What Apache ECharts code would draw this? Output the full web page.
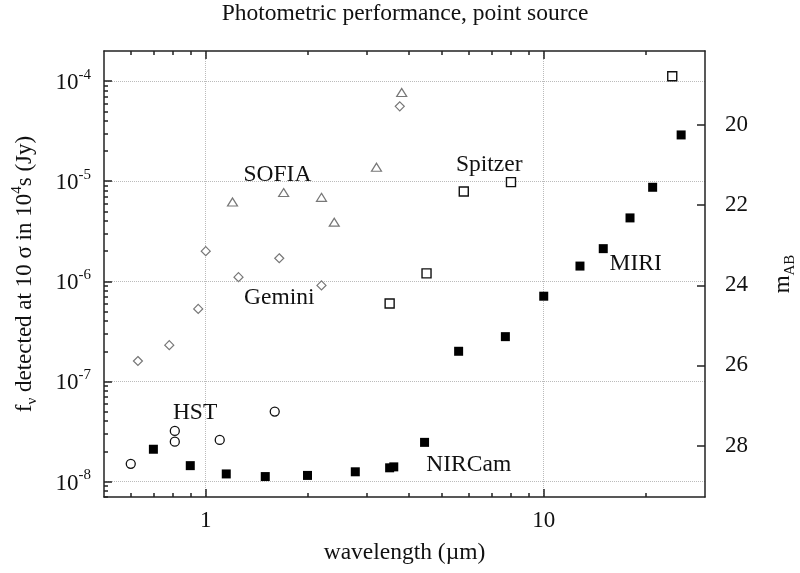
<!DOCTYPE html>
<html>
<head>
<meta charset="utf-8">
<script src="https://cdn.jsdelivr.net/npm/echarts@6/dist/echarts.min.js"></script>
<style>
  html, body { margin: 0; padding: 0; background: #fff; }
  #chart { width: 800px; height: 573px; }
</style>
</head>
<body>
<div id="chart"></div>
<script>
const font = 'Liberation Serif';

// wavelength (um) and 10 sigma flux (Jy)
const geminiWl = [0.63, 0.78, 0.95, 1.0, 1.25, 1.65, 2.2, 3.75];
const geminiFlux = [1.6e-7, 2.3e-7, 5.3e-7, 2.0e-6, 1.1e-6, 1.7e-6, 9.1e-7, 5.6e-5];
const sofiaWl = [1.2, 1.7, 2.2, 2.4, 3.2, 3.8];
const sofiaFlux = [6.2e-6, 7.7e-6, 6.9e-6, 3.9e-6, 1.38e-5, 7.7e-5];
const spitzerWl = [3.5, 4.5, 5.8, 8.0, 24];
const spitzerFlux = [6.0e-7, 1.2e-6, 7.9e-6, 9.8e-6, 1.12e-4];
const hstWl = [0.6, 0.81, 0.81, 1.1, 1.6];
const hstFlux = [1.5e-8, 3.2e-8, 2.5e-8, 2.6e-8, 5.0e-8];
const nircamWl = [0.7, 0.9, 1.15, 1.5, 2.0, 2.77, 3.5, 3.6, 4.44];
const nircamFlux = [2.1e-8, 1.44e-8, 1.19e-8, 1.12e-8, 1.15e-8, 1.25e-8, 1.37e-8, 1.40e-8, 2.46e-8];
const miriWl = [5.6, 7.7, 10, 12.8, 15, 18, 21, 25.5];
const miriFlux = [2.0e-7, 2.8e-7, 7.1e-7, 1.42e-6, 2.12e-6, 4.3e-6, 8.7e-6, 2.9e-5];

// instrument names placed in data space
const labelNames = ['SOFIA', 'Spitzer', 'Gemini', 'MIRI', 'HST', 'NIRCam'];
const labelWl = [1.63, 6.9, 1.65, 18.7, 0.93, 6.0];
const labelFlux = [1.16e-5, 1.47e-5, 6.8e-7, 1.48e-6, 4.9e-8, 1.46e-8];

// axes
const xMin = 0.5, xMax = 30;
const yMin = 7e-9, yMax = 2e-4;
const xMajor = [1, 10];
const xMinor = [0.6, 0.7, 0.8, 0.9, 2, 3, 4, 5, 6, 7, 8, 9, 20];
const yMajor = [1e-8, 1e-7, 1e-6, 1e-5, 1e-4];
const magTicks = [20, 22, 24, 26, 28];
const abZero = 3631; // Jy

const yMinor = [];
[1e-9, 1e-8, 1e-7, 1e-6, 1e-5, 1e-4].forEach(d => {
  for (let k = 2; k <= 9; k++) {
    const v = d * k;
    if (v > yMin && v < yMax) yMinor.push(v);
  }
});
const toMag = f => -2.5 * Math.log10(f / abZero);

const pairs = (xs, ys) => xs.map((x, i) => [x, ys[i]]);

const lineStyle = { color: '#222', width: 1.5 };
const gridLine = { show: true, lineStyle: { color: '#bbb', type: 'dotted', width: 1 } };
const noLabel = { show: false };

let myChart = echarts.init(document.getElementById('chart'));
let option = {
  animation: false,
  backgroundColor: '#fff',
  title: {
    text: 'Photometric performance, point source',
    left: 405,
    textAlign: 'center',
    top: 2,
    padding: 0,
    textStyle: { fontFamily: font, fontSize: 23.5, fontWeight: 'normal', color: '#111' }
  },
  grid: { left: 104, right: 95, top: 51, bottom: 76, containLabel: false, outerBoundsMode: 'none' },
  xAxis: [
    {
      type: 'log', min: xMin, max: xMax, position: 'bottom',
      axisLine: { show: true, lineStyle: lineStyle },
      axisTick: { show: true, inside: true, length: 8, customValues: xMajor, lineStyle: lineStyle },
      axisLabel: { customValues: xMajor, margin: 12, fontFamily: font, fontSize: 23, color: '#111' },
      splitLine: gridLine,
      name: 'wavelength (\u00b5m)',
      nameLocation: 'middle',
      nameGap: 44,
      nameTextStyle: { fontFamily: font, fontSize: 23.5, color: '#111' }
    },
    {
      type: 'log', min: xMin, max: xMax, position: 'bottom',
      axisLine: { show: false },
      axisTick: { show: true, inside: true, length: 4, customValues: xMinor, lineStyle: lineStyle },
      axisLabel: noLabel, splitLine: { show: false }
    },
    {
      type: 'log', min: xMin, max: xMax, position: 'top',
      axisLine: { show: true, lineStyle: lineStyle },
      axisTick: { show: true, inside: true, length: 8, customValues: xMajor, lineStyle: lineStyle },
      axisLabel: noLabel, splitLine: { show: false }
    },
    {
      type: 'log', min: xMin, max: xMax, position: 'top',
      axisLine: { show: false },
      axisTick: { show: true, inside: true, length: 4, customValues: xMinor, lineStyle: lineStyle },
      axisLabel: noLabel, splitLine: { show: false }
    }
  ],
  yAxis: [
    {
      type: 'log', min: yMin, max: yMax, position: 'left',
      axisLine: { show: true, lineStyle: lineStyle },
      axisTick: { show: true, inside: true, length: 8, customValues: yMajor, lineStyle: lineStyle },
      axisLabel: {
        customValues: yMajor,
        margin: 13,
        formatter: v => '{b|10}{s|' + Math.round(Math.log10(v)) + '}',
        rich: {
          b: { fontFamily: font, fontSize: 23, color: '#111', lineHeight: 27, padding: [4, 0, 0, 0] },
          s: { fontFamily: font, fontSize: 15, color: '#111', lineHeight: 15, verticalAlign: 'top' }
        }
      },
      splitLine: gridLine,
      name: '{n|f}{sub|\u03bd}{n| detected at 10 \u03c3 in 10}{sup|4}{n|s (Jy)}',
      nameLocation: 'middle',
      nameGap: 64,
      nameTextStyle: {
        rich: {
          n: { fontFamily: font, fontSize: 23, color: '#111', lineHeight: 30 },
          sub: { fontFamily: font, fontSize: 15, color: '#111', lineHeight: 15, verticalAlign: 'bottom' },
          sup: { fontFamily: font, fontSize: 15, color: '#111', lineHeight: 15, verticalAlign: 'top' }
        }
      }
    },
    {
      type: 'log', min: yMin, max: yMax, position: 'left',
      axisLine: { show: false },
      axisTick: { show: true, inside: true, length: 4, customValues: yMinor, lineStyle: lineStyle },
      axisLabel: noLabel, splitLine: { show: false }
    },
    {
      type: 'value', inverse: true, position: 'right',
      min: toMag(yMax), max: toMag(yMin),
      axisLine: { show: true, lineStyle: lineStyle },
      axisTick: { show: true, inside: true, length: 8, customValues: magTicks, lineStyle: lineStyle },
      axisLabel: { customValues: magTicks, margin: 20, fontFamily: font, fontSize: 23, color: '#111' },
      splitLine: { show: false },
      name: '{n|m}{sub|AB}',
      nameLocation: 'middle',
      nameGap: 63,
      nameTextStyle: {
        rich: {
          n: { fontFamily: font, fontSize: 23, color: '#111', lineHeight: 30 },
          sub: { fontFamily: font, fontSize: 15, color: '#111', lineHeight: 15, verticalAlign: 'bottom' }
        }
      }
    }
  ],
  series: [
    {
      name: 'Gemini', type: 'scatter', symbol: 'diamond', symbolSize: [9, 9],
      itemStyle: { color: '#fff', borderColor: '#777', borderWidth: 1.2, opacity: 1 },
      data: pairs(geminiWl, geminiFlux)
    },
    {
      name: 'SOFIA', type: 'scatter', symbol: 'triangle', symbolSize: [10, 8],
      itemStyle: { color: '#fff', borderColor: '#777', borderWidth: 1.2, opacity: 1 },
      data: pairs(sofiaWl, sofiaFlux)
    },
    {
      name: 'Spitzer', type: 'scatter', symbol: 'rect', symbolSize: 9,
      itemStyle: { color: '#fff', borderColor: '#111', borderWidth: 1.4, opacity: 1 },
      data: pairs(spitzerWl, spitzerFlux)
    },
    {
      name: 'HST', type: 'scatter', symbol: 'circle', symbolSize: 9,
      itemStyle: { color: '#fff', borderColor: '#111', borderWidth: 1.3, opacity: 1 },
      data: pairs(hstWl, hstFlux)
    },
    {
      name: 'NIRCam', type: 'scatter', symbol: 'rect', symbolSize: 9,
      itemStyle: { color: '#000', opacity: 1 },
      data: pairs(nircamWl, nircamFlux)
    },
    {
      name: 'MIRI', type: 'scatter', symbol: 'rect', symbolSize: 9,
      itemStyle: { color: '#000', opacity: 1 },
      data: pairs(miriWl, miriFlux)
    },
    {
      name: 'labels', type: 'scatter', symbolSize: 1,
      itemStyle: { color: 'rgba(0,0,0,0)', opacity: 1 },
      label: {
        show: true, position: 'inside', formatter: p => p.name,
        fontFamily: font, fontSize: 23.5, color: '#111'
      },
      data: labelNames.map((n, i) => ({ name: n, value: [labelWl[i], labelFlux[i]] }))
    }
  ]
};
myChart.setOption(option);
</script>
</body>
</html>
